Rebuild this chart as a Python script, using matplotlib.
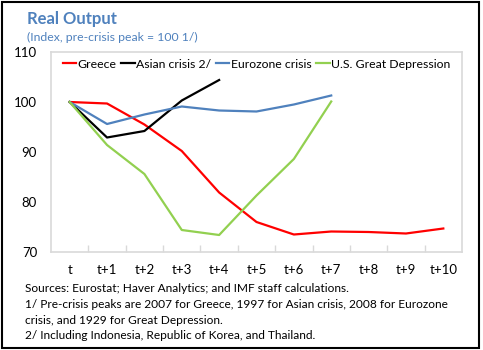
import numpy as np
import matplotlib.pyplot as plt
from matplotlib.patches import Rectangle

periods = ['t', 't+1', 't+2', 't+3', 't+4', 't+5', 't+6', 't+7', 't+8', 't+9', 't+10']

greece = [100, 99.7, 95.5, 90.2, 81.9, 76.0, 73.5, 74.1, 74.0, 73.7, 74.7]
asian = [100, 92.9, 94.2, 100.3, 104.4]
eurozone = [100, 95.6, 97.5, 99.1, 98.3, 98.1, 99.5, 101.3]
us_depression = [100, 91.4, 85.6, 74.4, 73.4, 81.3, 88.6, 100.1]

yticks = [70, 80, 90, 100, 110]

plt.rcParams['font.family'] = ['Lato', 'DejaVu Sans']
plt.rcParams['font.size'] = 9.5

fig = plt.figure(figsize=(4.83, 3.5), dpi=100)
ax = fig.add_axes([51/483, 1 - 252/350, 411/483, 200/350])

gray = '#D9D9D9'
ax.plot(range(len(greece)), greece, color='#FF0000', lw=1.6, label='Greece')
ax.plot(range(len(asian)), asian, color='black', lw=1.6, label='Asian crisis 2/')
ax.plot(range(len(eurozone)), eurozone, color='#4F81BD', lw=1.6, label='Eurozone crisis')
ax.plot(range(len(us_depression)), us_depression, color='#92D050', lw=1.6, label='U.S. Great Depression')

ax.set_xlim(-0.5, len(periods) - 0.5)
ax.set_ylim(70, 110)
ax.set_yticks(yticks)
ax.set_xticks(range(len(periods)))
ax.set_xticklabels(periods)
ax.set_xticks(np.arange(0.5, len(periods) - 1, 1), minor=True)
ax.tick_params(axis='x', which='major', length=0, pad=9)
ax.tick_params(axis='x', which='minor', direction='in', length=5, color=gray, width=1)
ax.tick_params(axis='y', length=0, pad=10)
for s in ax.spines.values():
    s.set_color(gray)
    s.set_linewidth(1.2)

ax.legend(loc='upper center', bbox_to_anchor=(0.5, 1.01), ncol=4, frameon=False, fontsize=8.8,
          handlelength=1.1, handletextpad=0.1, columnspacing=0.4, borderaxespad=0.3)

blue = '#4F81BD'
fig.text(27/483, 1 - 24/350, 'Real Output', fontsize=12, fontweight='bold', color=blue)
fig.text(27/483, 1 - 37/350, '(Index, pre-crisis peak = 100 1/)', fontsize=8.8, color=blue, va='center')

notes = ['Sources: Eurostat; Haver Analytics; and IMF staff calculations.',
         '1/ Pre-crisis peaks are 2007 for Greece, 1997 for Asian crisis, 2008 for Eurozone',
         'crisis, and 1929 for Great Depression.',
         '2/ Including Indonesia, Republic of Korea, and Thailand.']
for i, line in enumerate(notes):
    fig.text(25/483, 1 - (289 + 15.6*i)/350, line, fontsize=8.6, va='center')

fig.patches.append(Rectangle((2/483, 2/350), 477/483, 346/350, transform=fig.transFigure,
                             fill=False, edgecolor='black', lw=1.5))

fig.savefig('out.png', dpi=100)
